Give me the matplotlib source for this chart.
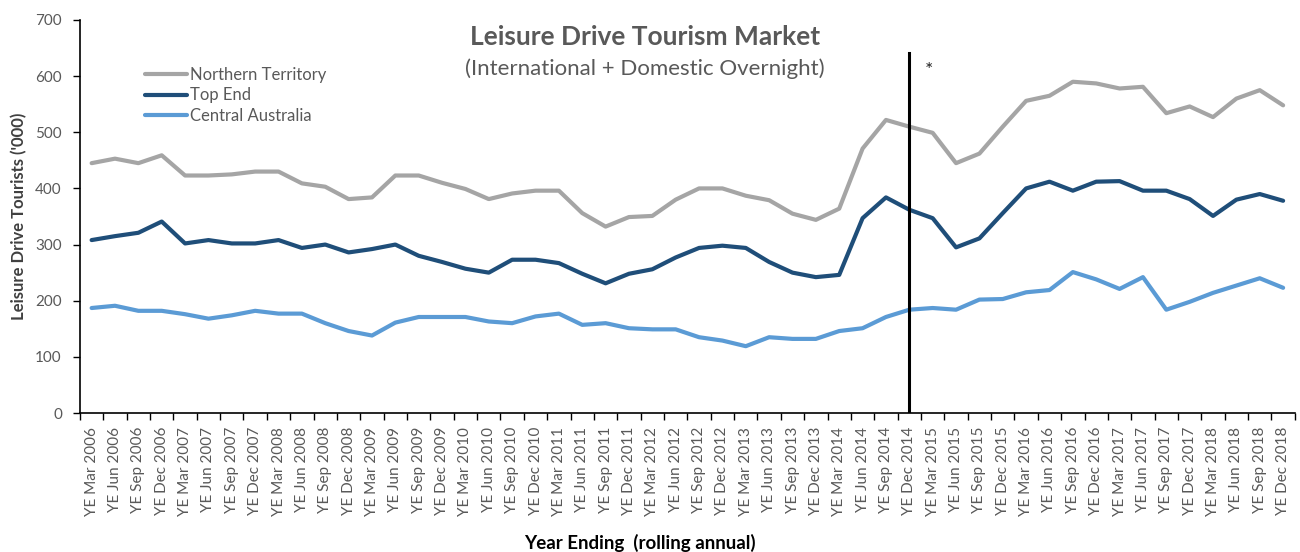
import matplotlib
matplotlib.use("Agg")
import matplotlib.pyplot as plt
import numpy as np

plt.rcParams['font.family'] = ['Lato', 'DejaVu Sans']

years = list(range(2006, 2019))
quarters = ["Mar", "Jun", "Sep", "Dec"]
categories = [f"YE {q} {y}" for y in years for q in quarters]

northern_territory = [445, 453, 445, 459, 423, 423, 425, 430, 430, 409, 403, 381, 384, 423, 423, 410,
                      399, 381, 391, 396, 396, 356, 332, 349, 351, 380, 400, 400, 387, 379, 355, 344,
                      364, 471, 522, 510, 499, 445, 462, 510, 556, 565, 590, 587, 578, 581, 534, 546,
                      527, 560, 575, 548]
top_end = [308, 315, 321, 341, 302, 308, 302, 302, 308, 294, 300, 286, 292, 300, 280, 269,
           257, 250, 273, 273, 267, 248, 231, 248, 256, 277, 294, 298, 294, 269, 250, 242,
           246, 347, 384, 362, 347, 295, 311, 356, 400, 412, 396, 412, 413, 396, 396, 381,
           351, 380, 390, 378]
central_australia = [187, 191, 182, 182, 176, 168, 174, 182, 177, 177, 160, 146, 138, 161, 171, 171,
                     171, 163, 160, 172, 177, 157, 160, 151, 149, 149, 135, 129, 119, 135, 132, 132,
                     146, 151, 171, 184, 187, 184, 202, 203, 215, 219, 251, 238, 221, 242, 184, 198,
                     214, 227, 240, 223]

series_names = ["Northern Territory", "Top End", "Central Australia"]
colors = ["#A5A5A5", "#1F4E79", "#5B9BD5"]

marker_index = categories.index("YE Dec 2014")
marker_top = 642

fig = plt.figure(figsize=(13, 5.52), dpi=100)
ax = fig.add_axes([0.0615, 0.2518, 0.9345, 0.712])

x = np.arange(len(categories))
for vals, name, c in zip([northern_territory, top_end, central_australia], series_names, colors):
    ax.plot(x, vals, color=c, lw=3.0, label=name, solid_capstyle='round', solid_joinstyle='round')

ax.plot([marker_index, marker_index], [0, marker_top], color='black', lw=2.2, zorder=5)
ax.text(marker_index + 0.85, 610, "*", fontsize=14, ha='center', va='center', color='#222222')

ax.set_xlim(-0.5, len(categories) - 0.5)
ax.set_ylim(0, 700)
ax.set_yticks(range(0, 701, 100))
ax.tick_params(axis='y', labelsize=11, labelcolor='#595959', length=5, direction='out', width=1, pad=8)

ax.set_xticks(x)
ax.set_xticklabels(categories, rotation=90, fontsize=11, color='#595959')
ax.set_xticks(np.arange(-0.5, len(categories), 1), minor=True)
ax.tick_params(axis='x', which='major', length=0, pad=10)
ax.tick_params(axis='x', which='minor', length=5, direction='out', width=1)

for s in ['top', 'right']:
    ax.spines[s].set_visible(False)
for s in ['left', 'bottom']:
    ax.spines[s].set_color('black')
    ax.spines[s].set_linewidth(1.2)

ax.set_ylabel("Leisure Drive Tourists ('000)", fontsize=12, fontweight='bold', color='#404040', labelpad=6)
fig.text(0.492, 0.0163, "Year Ending  (rolling annual)", fontsize=13.5, fontweight='bold', ha='center', va='center', color='black')

fig.text(0.496, 0.933, "Leisure Drive Tourism Market", fontsize=19, fontweight='bold', ha='center', va='center', color='#595959')
fig.text(0.496, 0.875, "(International + Domestic Overnight)", fontsize=16, ha='center', va='center', color='#595959')

leg = ax.legend(loc='upper left', bbox_to_anchor=(0.048, 0.897), frameon=False, fontsize=12,
                handlelength=2.5, handletextpad=0.2, labelspacing=0.26, borderaxespad=0)
for t in leg.get_texts():
    t.set_color('#595959')

fig.savefig("out.png", dpi=100)
